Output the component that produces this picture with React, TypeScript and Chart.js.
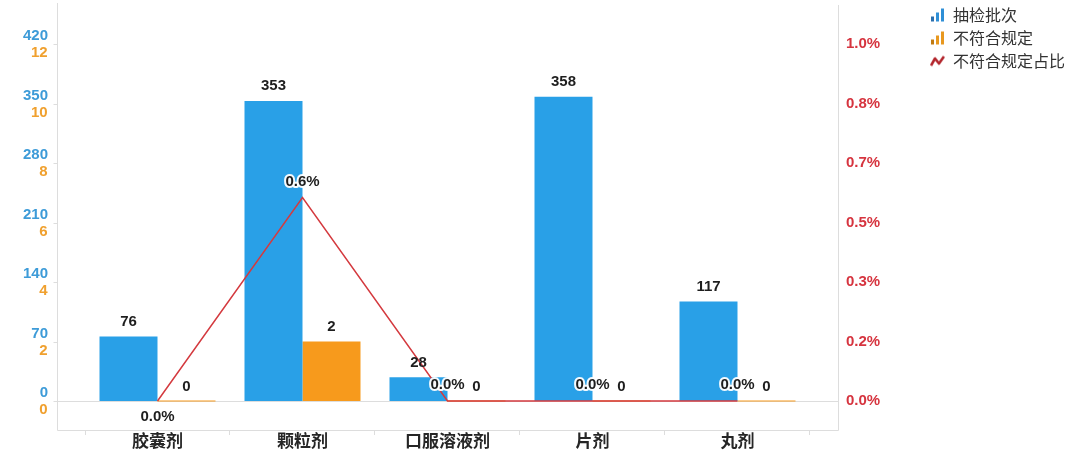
import { useEffect, useRef } from 'react'
import { Chart, registerables } from 'chart.js'

Chart.register(...registerables)

// data
const categories = ['胶囊剂', '颗粒剂', '口服溶液剂', '片剂', '丸剂']
const sampledBatches = [76, 353, 28, 358, 117]
const failedBatches = [0, 2, 0, 0, 0]
const failedPercent = [0.0, 0.57, 0.0, 0.0, 0.0]

const batchTicks = [0, 70, 140, 210, 280, 350, 420]
const failTicks = [0, 2, 4, 6, 8, 10, 12]
const percentTicks = [0, 0.1667, 0.3333, 0.5, 0.6667, 0.8333, 1.0]

const seriesNames = ['抽检批次', '不符合规定', '不符合规定占比']

const NUM_FONT = '"Liberation Sans", Arial, sans-serif'
const CJK_FONT = '"Noto Sans CJK SC", "Noto Sans", sans-serif'
const FRAME_PAD = 28

// the top tick sits 41px below the plot top, zero sits 29px above the x axis
const rangeFor = (top: number) => ({
  min: (-top * 29) / 357,
  max: top * (1 + 41 / 357),
})

const setTicks = (values: number[]) => (scale: any) => {
  scale.ticks = values.map((v) => ({ value: v }))
}

function barIcon(light: string, dark: string) {
  const c = document.createElement('canvas')
  c.width = 15
  c.height = 15
  const g = c.getContext('2d')!
  g.fillStyle = dark
  g.fillRect(1, 9, 3, 5)
  g.fillStyle = light
  g.fillRect(6, 5, 3, 9)
  g.fillRect(11, 1, 3, 13)
  return c
}

function lineIcon(color: string) {
  const c = document.createElement('canvas')
  c.width = 15
  c.height = 15
  const g = c.getContext('2d')!
  g.strokeStyle = color
  g.lineWidth = 2.6
  g.lineJoin = 'round'
  g.beginPath()
  g.moveTo(1, 12)
  g.lineTo(5, 5)
  g.lineTo(9, 10)
  g.lineTo(14, 3)
  g.stroke()
  return c
}

const framePlugin = {
  id: 'frame',
  beforeDatasetsDraw(chart: any) {
    const { ctx, chartArea: a, scales } = chart
    const l = Math.round(a.left - FRAME_PAD) + 0.5
    const r = Math.round(a.right + FRAME_PAD) + 0.5
    const b = Math.round(a.bottom) + 0.5
    const zero = Math.round(scales.y.getPixelForValue(0)) + 0.5
    ctx.save()
    ctx.strokeStyle = '#dddddd'
    ctx.lineWidth = 1
    ctx.beginPath()
    ctx.moveTo(l, a.top)
    ctx.lineTo(l, b)
    ctx.lineTo(r, b)
    ctx.lineTo(r, a.top + 2)
    ctx.moveTo(l, zero)
    ctx.lineTo(r, zero)
    scales.y.ticks.forEach((t: any) => {
      const y = Math.round(scales.y.getPixelForValue(t.value)) + 0.5
      ctx.moveTo(l - 4, y)
      ctx.lineTo(l, y)
    })
    ctx.stroke()
    ctx.restore()
  },
}

const labelPlugin = {
  id: 'valueLabels',
  afterDatasetsDraw(chart: any) {
    const ctx = chart.ctx
    ctx.save()
    ctx.font = `bold 15px ${NUM_FONT}`
    ctx.textAlign = 'center'
    ctx.textBaseline = 'alphabetic'
    ctx.fillStyle = '#1e1e1e'
    ;[0, 1].forEach((di) => {
      const meta = chart.getDatasetMeta(di)
      meta.data.forEach((bar: any, i: number) => {
        const v = chart.data.datasets[di].data[i]
        ctx.fillText(String(v), bar.x, bar.y - 10.5)
      })
    })
    const lineMeta = chart.getDatasetMeta(2)
    ctx.lineJoin = 'round'
    ctx.strokeStyle = 'rgba(255,255,255,0.95)'
    ctx.lineWidth = 4
    lineMeta.data.forEach((pt: any, i: number) => {
      const text = failedPercent[i].toFixed(1) + '%'
      const y = i === 0 ? pt.y + 20 : pt.y - 12
      ctx.strokeText(text, pt.x, y)
      ctx.fillText(text, pt.x, y)
    })
    ctx.restore()
  },
}

export default function App() {
  const canvasRef = useRef<HTMLCanvasElement>(null)
  const chartRef = useRef<Chart | null>(null)

  useEffect(() => {
    document.body.style.margin = '0'
    if (!canvasRef.current) return
    const ctx = canvasRef.current.getContext('2d')
    if (!ctx) return

    if (chartRef.current) chartRef.current.destroy()

    const icons = [
      barIcon('#2f8fd6', '#2a6fae'),
      barIcon('#e8981f', '#c07a12'),
      lineIcon('#b3262d'),
    ]

    chartRef.current = new Chart(ctx, {
      type: 'bar',
      data: {
        labels: categories,
        datasets: [
          {
            type: 'bar',
            label: seriesNames[0],
            data: sampledBatches,
            yAxisID: 'y',
            backgroundColor: '#29a0e7',
            borderWidth: 0,
            categoryPercentage: 0.8,
            barPercentage: 1.0,
            order: 1,
          },
          {
            type: 'bar',
            label: seriesNames[1],
            data: failedBatches,
            yAxisID: 'y1',
            backgroundColor: '#f79a1c',
            borderWidth: 0,
            minBarLength: 1,
            categoryPercentage: 0.8,
            barPercentage: 1.0,
            order: 1,
          },
          {
            type: 'line',
            label: seriesNames[2],
            data: failedPercent,
            yAxisID: 'y2',
            borderColor: '#d43a3f',
            borderWidth: 1.5,
            pointRadius: 0,
            tension: 0,
            fill: false,
            order: 0,
          } as any,
        ],
      },
      options: {
        responsive: true,
        maintainAspectRatio: false,
        animation: false,
        events: [],
        layout: { padding: { top: 0, right: 5, bottom: 0, left: 0 } },
        plugins: {
          tooltip: { enabled: false },
          legend: {
            position: 'right',
            align: 'start',
            maxWidth: 220,
            labels: {
              usePointStyle: true,
              boxWidth: 15,
              boxHeight: 15,
              padding: 7,
              color: '#333333',
              font: { family: CJK_FONT, size: 16 },
              generateLabels: (chart: any) =>
                chart.data.datasets.map((ds: any, i: number) => ({
                  text: ds.label,
                  pointStyle: icons[i],
                  fillStyle: 'transparent',
                  strokeStyle: 'transparent',
                  lineWidth: 0,
                  hidden: false,
                  datasetIndex: i,
                  fontColor: '#333333',
                })),
            },
          },
        },
        scales: {
          x: {
            offset: true,
            grid: {
              offset: true,
              drawOnChartArea: false,
              drawTicks: true,
              tickLength: 5,
              color: '#dddddd',
            },
            border: { display: false },
            ticks: {
              color: '#262626',
              padding: -5,
              font: { family: CJK_FONT, size: 17, weight: 'bold' },
            },
            afterFit: (scale: any) => {
              scale.height = 35
            },
          },
          y: {
            position: 'left',
            weight: 1,
            ...rangeFor(batchTicks[batchTicks.length - 1]),
            afterBuildTicks: setTicks(batchTicks),
            grid: { display: false, drawTicks: false },
            border: { display: false },
            ticks: {
              color: '#3d9bd8',
              padding: 37,
              labelOffset: -8,
              font: { family: NUM_FONT, size: 15, weight: 'bold' },
            },
            afterFit: (scale: any) => {
              scale.width = 85
              scale.paddingTop = 3
              scale.paddingBottom = 0
            },
          },
          y1: {
            // zero-width axis next to the plot; mirrored so its labels are not
            // clipped, 'far' alignment right-aligns them under the blue labels
            position: 'left',
            weight: 0,
            ...rangeFor(failTicks[failTicks.length - 1]),
            afterBuildTicks: setTicks(failTicks),
            grid: { display: false, drawTicks: false },
            border: { display: false },
            ticks: {
              color: '#f0a02e',
              mirror: true,
              crossAlign: 'far',
              padding: -54,
              labelOffset: 9,
              font: { family: NUM_FONT, size: 15, weight: 'bold' },
            },
            afterFit: (scale: any) => {
              scale.width = 0
              scale.paddingTop = 3
              scale.paddingBottom = 0
            },
          },
          y2: {
            position: 'right',
            ...rangeFor(percentTicks[percentTicks.length - 1]),
            afterBuildTicks: setTicks(percentTicks),
            grid: { display: false, drawTicks: false },
            border: { display: false },
            ticks: {
              color: '#d6343f',
              padding: 36,
              font: { family: NUM_FONT, size: 15, weight: 'bold' },
              callback: (v: any) => Number(v).toFixed(1) + '%',
            },
            afterFit: (scale: any) => {
              scale.width = 113
              scale.paddingTop = 3
              scale.paddingBottom = 0
            },
          },
        },
      } as any,
      plugins: [framePlugin, labelPlugin],
    })

    return () => {
      if (chartRef.current) {
        chartRef.current.destroy()
        chartRef.current = null
      }
    }
  }, [])

  return (
    <div style={{ position: 'relative', width: 1080, height: 465, background: '#ffffff' }}>
      <canvas ref={canvasRef} />
    </div>
  )
}
